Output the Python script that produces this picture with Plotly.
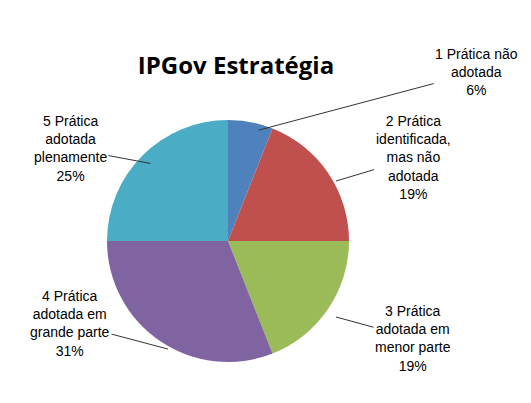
import plotly.graph_objects as go
import math

categories = ["1 Prática não<br>adotada", "2 Prática<br>identificada,<br>mas não<br>adotada",
              "3 Prática<br>adotada em<br>menor parte", "4 Prática<br>adotada em<br>grande parte",
              "5 Prática<br>adotada<br>plenamente"]
values = [6, 19, 19, 31, 25]
colors = ["#4F81BD", "#C0504D", "#9BBB59", "#8064A2", "#4BACC6"]
offsets = [(218, -58), (77, -23), (77, 21), (-98, -26), (-80, -15)]

W, H = 531, 403
cx, cy, r = 228, 241, 121
dx, dy = -8, -8  # correction for plotly domain placement

fig = go.Figure(go.Pie(values=values, labels=categories, marker=dict(colors=colors),
                       sort=False, direction="clockwise", rotation=0,
                       textinfo="none", hoverinfo="label+percent",
                       domain=dict(x=[(cx + dx - r) / W, (cx + dx + r) / W],
                                   y=[(H - cy - dy - r) / H, (H - cy - dy + r) / H])))

total = sum(values)
cum = 0
anns = []
for cat, v, (ax, ay) in zip(categories, values, offsets):
    mid = (cum + v / 2) / total * 2 * math.pi
    cum += v
    px = cx + r * math.sin(mid)
    py = cy - r * math.cos(mid)
    anns.append(dict(x=px / W, y=1 - py / H, xref="paper", yref="paper",
                     text=f"{cat}<br>{round(v / total * 100)}%", showarrow=True,
                     arrowhead=0, arrowwidth=1, arrowcolor="#333", ax=ax, ay=ay,
                     font=dict(family="Liberation Sans", size=14, color="black"), align="center"))

fig.update_layout(width=W, height=H, margin=dict(l=0, r=0, t=0, b=0), showlegend=False,
                  paper_bgcolor="white",
                  title=dict(text="<b>IPGov Estratégia</b>", x=228 / W, xanchor="center",
                             y=1 - 58 / H, yanchor="middle",
                             font=dict(family="Open Sans", size=24, color="black")),
                  annotations=anns)
fig.write_html("out.html")
